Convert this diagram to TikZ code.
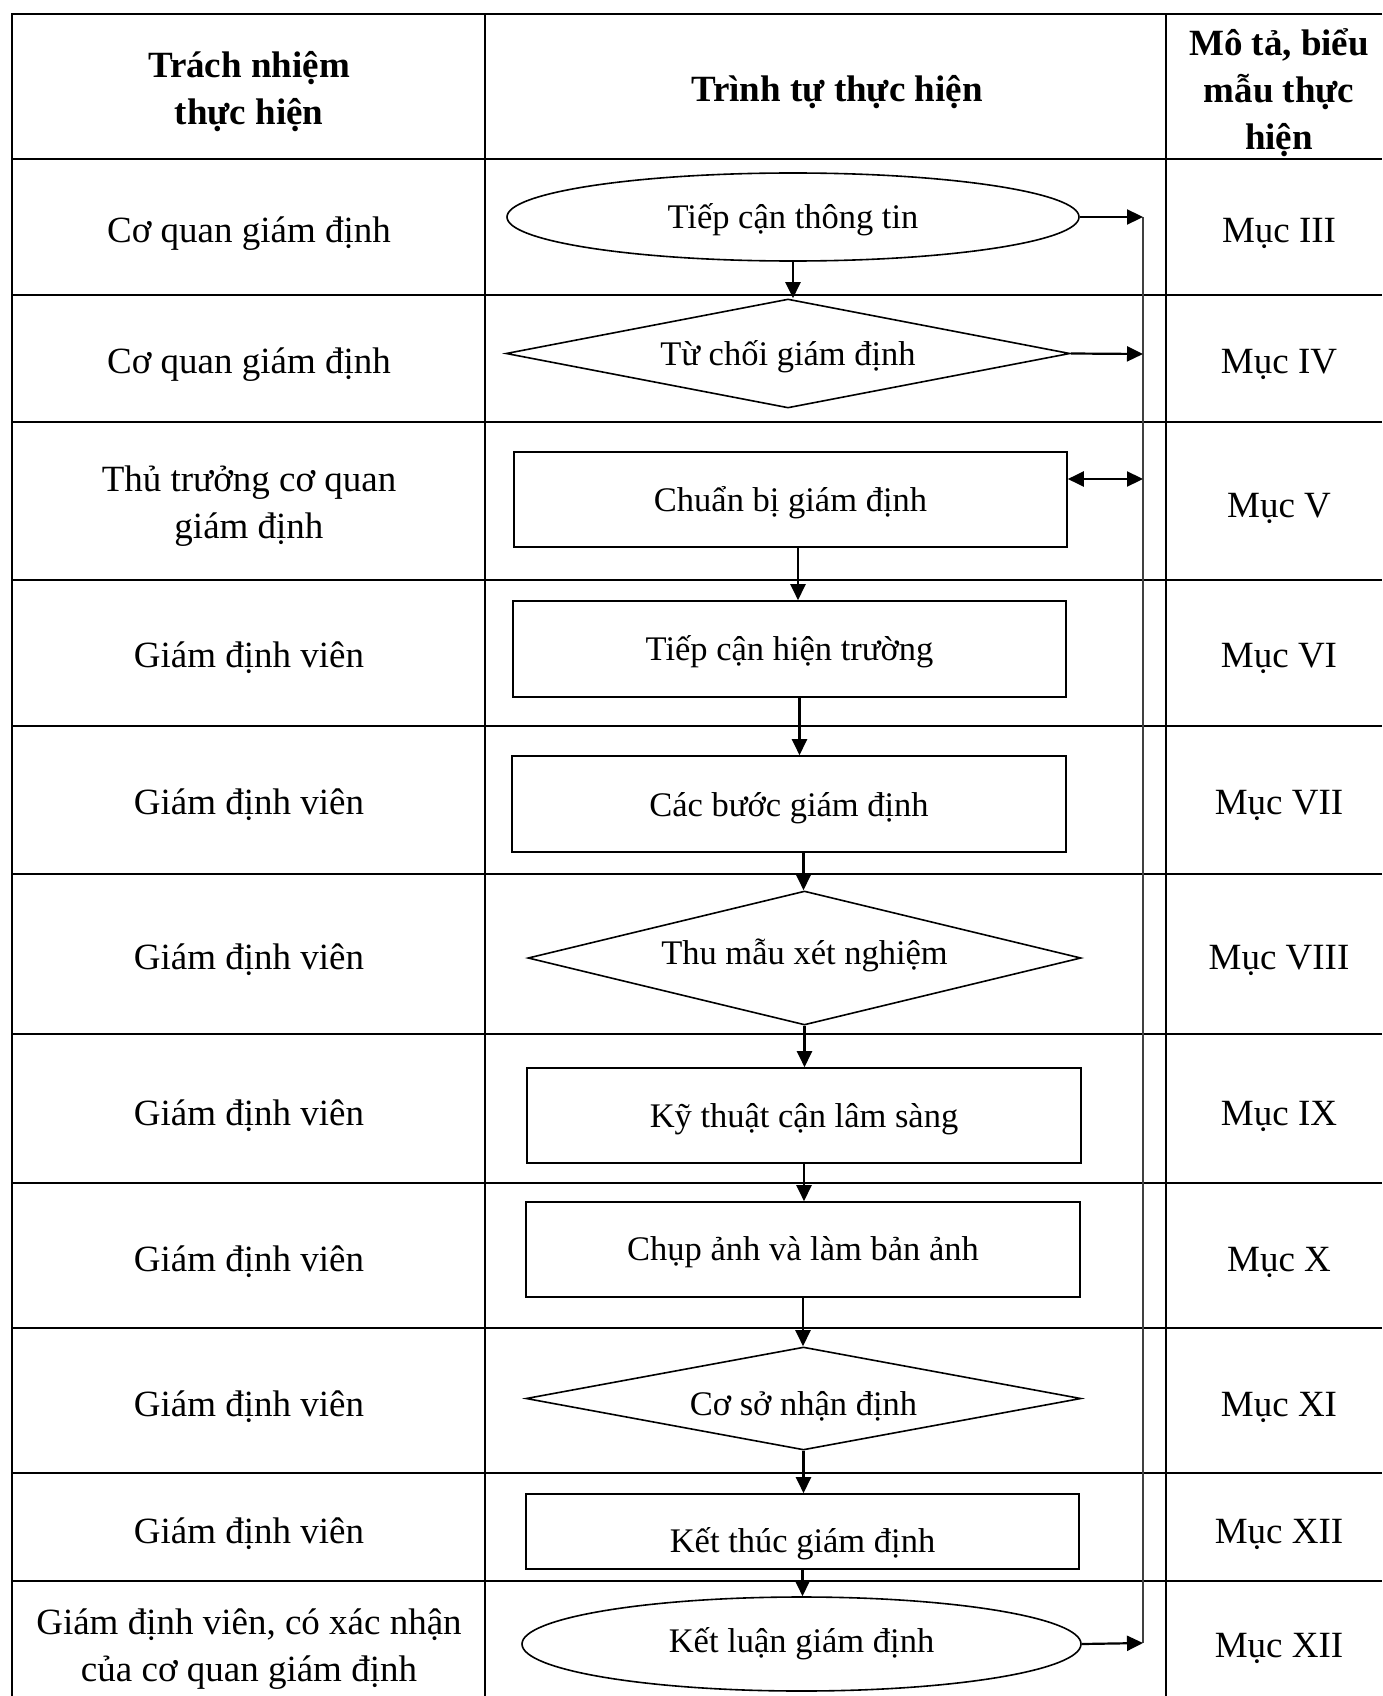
\documentclass[tikz,border=0pt]{standalone}
\usepackage{fontspec}
\setmainfont{Liberation Serif}
\usetikzlibrary{shapes.geometric,arrows.meta,calc}
\begin{document}
\begin{tikzpicture}[x=1pt,y=-1pt,
  tbl/.style={line width=2.2pt},
  cell/.style={font=\fontsize{37}{47}\selectfont, align=center, text height=24.4pt, text depth=8.1pt, inner sep=0pt},
  cellm/.style={font=\fontsize{37}{47}\selectfont, align=center, inner sep=0pt, anchor=base},
  hdr/.style={cell, font=\fontsize{37}{47}\selectfont\bfseries},
  hdrm/.style={cellm, font=\fontsize{37}{47}\selectfont\bfseries},
  fl/.style={draw, line width=1.6pt, inner sep=0pt},
  boxs/.style={fl, rectangle},
  ell/.style={fl, ellipse},
  dia/.style={fl, diamond},
  ftxt/.style={font=\fontsize{34.5}{40}\selectfont, text height=22.8pt, text depth=7.6pt, inner sep=0pt},
  arr/.style={line width=2.2pt, -{Triangle[length=16pt,width=15pt]}},
  darr/.style={line width=2.2pt, {Triangle[length=16pt,width=15pt]}-{Triangle[length=16pt,width=15pt]}},
  bus/.style={line width=1.4pt, black!75},
]
\useasboundingbox (0,0) rectangle (1382,1696);
\fill[white] (0,0) rectangle (1382,1696);

% table grid
\draw[tbl] (1382,14) -- (12,14) -- (12,1696);
\foreach \y in {159,295,422,580,726,874,1034,1183,1328,1473,1581}
  \draw[tbl] (12,\y) -- (1382,\y);
\foreach \x in {485,1166}
  \draw[tbl] (\x,14) -- (\x,1696);

% headers (base = baseline of the last line)
\node[hdrm] (h1) at (249,125) {Trách nhiệm\\thực hiện};
\node[hdr] (h2) at (837,93) {Trình tự thực hiện};
\node[hdrm] (h3) at (1279,150) {Mô tả, biểu\\mẫu thực\\hiện};

% left column
\node[cell] (r1) at (249,234) {Cơ quan giám định};
\node[cell] (r2) at (249,365) {Cơ quan giám định};
\node[cellm] (r3) at (249,538) {Thủ trưởng cơ quan\\giám định};
\node[cell] (r4) at (249,659) {Giám định viên};
\node[cell] (r5) at (249,806) {Giám định viên};
\node[cell] (r6) at (249,961) {Giám định viên};
\node[cell] (r7) at (249,1117) {Giám định viên};
\node[cell] (r8) at (249,1263) {Giám định viên};
\node[cell] (r9) at (249,1408) {Giám định viên};
\node[cell] (r10) at (249,1535) {Giám định viên};
\node[cellm] (r11) at (249,1681) {Giám định viên, có xác nhận\\của cơ quan giám định};

% right column
\node[cell] (m1) at (1279,234) {Mục III};
\node[cell] (m2) at (1279,365) {Mục IV};
\node[cell] (m3) at (1279,509) {Mục V};
\node[cell] (m4) at (1279,659) {Mục VI};
\node[cell] (m5) at (1279,806) {Mục VII};
\node[cell] (m6) at (1279,961) {Mục VIII};
\node[cell] (m7) at (1279,1117) {Mục IX};
\node[cell] (m8) at (1279,1263) {Mục X};
\node[cell] (m9) at (1279,1408) {Mục XI};
\node[cell] (m10) at (1279,1535) {Mục XII};
\node[cell] (m11) at (1279,1649) {Mục XII};

% flowchart shapes
\node[ell, minimum width=572pt, minimum height=88pt,
  label={[ftxt,name=t1,yshift=-4pt]center:Tiếp cận thông tin}] (s1) at (793,217) {};
\node[dia, minimum width=564pt, minimum height=109pt,
  label={[ftxt,name=t2,yshift=-4pt]center:Từ chối giám định}] (d1) at (788,353.5) {};
\node[boxs, minimum width=553pt, minimum height=95pt,
  label={[ftxt,name=t3,yshift=-4pt]center:Chuẩn bị giám định}] (b1) at (790.5,499.5) {};
\node[boxs, minimum width=553pt, minimum height=96pt,
  label={[ftxt,name=t4,yshift=-4pt]center:Tiếp cận hiện trường}] (b2) at (789.5,649) {};
\node[boxs, minimum width=554pt, minimum height=96pt,
  label={[ftxt,name=t5,yshift=-5pt]center:Các bước giám định}] (b3) at (789,804) {};
\node[dia, minimum width=553pt, minimum height=134pt,
  label={[ftxt,name=t6,yshift=1.5pt]center:Thu mẫu xét nghiệm}] (d2) at (804.5,958) {};
\node[boxs, minimum width=554pt, minimum height=95pt,
  label={[ftxt,name=t7,yshift=-4pt]center:Kỹ thuật cận lâm sàng}] (b4) at (804,1115.5) {};
\node[boxs, minimum width=554pt, minimum height=95pt,
  label={[ftxt,name=t8,yshift=-3pt]center:Chụp ảnh và làm bản ảnh}] (b5) at (803,1249.5) {};
\node[dia, minimum width=555pt, minimum height=103pt,
  label={[ftxt,name=t9,yshift=-9pt]center:Cơ sở nhận định}] (d3) at (803.5,1398.5) {};
\node[boxs, minimum width=553pt, minimum height=75pt,
  label={[ftxt,name=t10,yshift=-13pt]center:Kết thúc giám định}] (b6) at (802.5,1531.5) {};
\node[ell, minimum width=559pt, minimum height=94pt,
  label={[ftxt,name=t11,yshift=-1pt]center:Kết luận giám định}] (s2) at (801.5,1644) {};

% bus line points
\coordinate (c1) at (1143,217);
\coordinate (c2) at (1143,354);
\coordinate (c3) at (1143,479);
\coordinate (c4) at (1143,1643);
\draw[bus] (c1) -- (c4);

% vertical flow arrows
\draw[arr] (s1.south) -- (s1.south |- d1.north);
\coordinate (a2) at ([xshift=7.5pt]b1.south);
\draw[arr] (a2) -- (a2 |- b2.north);
\coordinate (a3) at ([xshift=10pt]b2.south);
\draw[arr] (a3) -- (a3 |- b3.north);
\coordinate (a4) at ([xshift=14.5pt]b3.south);
\draw[arr] (a4) -- (a4 |- d2.north);
\draw[arr] (d2.south) -- (d2.south |- b4.north);
\draw[arr] (b4.south) -- (b4.south |- b5.north);
\draw[arr] (b5.south) -- (b5.south |- d3.north);
\draw[arr] (d3.south) -- (d3.south |- b6.north);
\draw[arr] (b6.south) -- (b6.south |- s2.north);

% horizontal arrows to the bus
\draw[arr] (s1.east) -- (c1);
\draw[arr] (d1.east) -- (c2);
\draw[darr] ([yshift=20.5pt]b1.east) -- (c3);
\draw[arr] (s2.east) -- (c4);
\end{tikzpicture}
\end{document}
